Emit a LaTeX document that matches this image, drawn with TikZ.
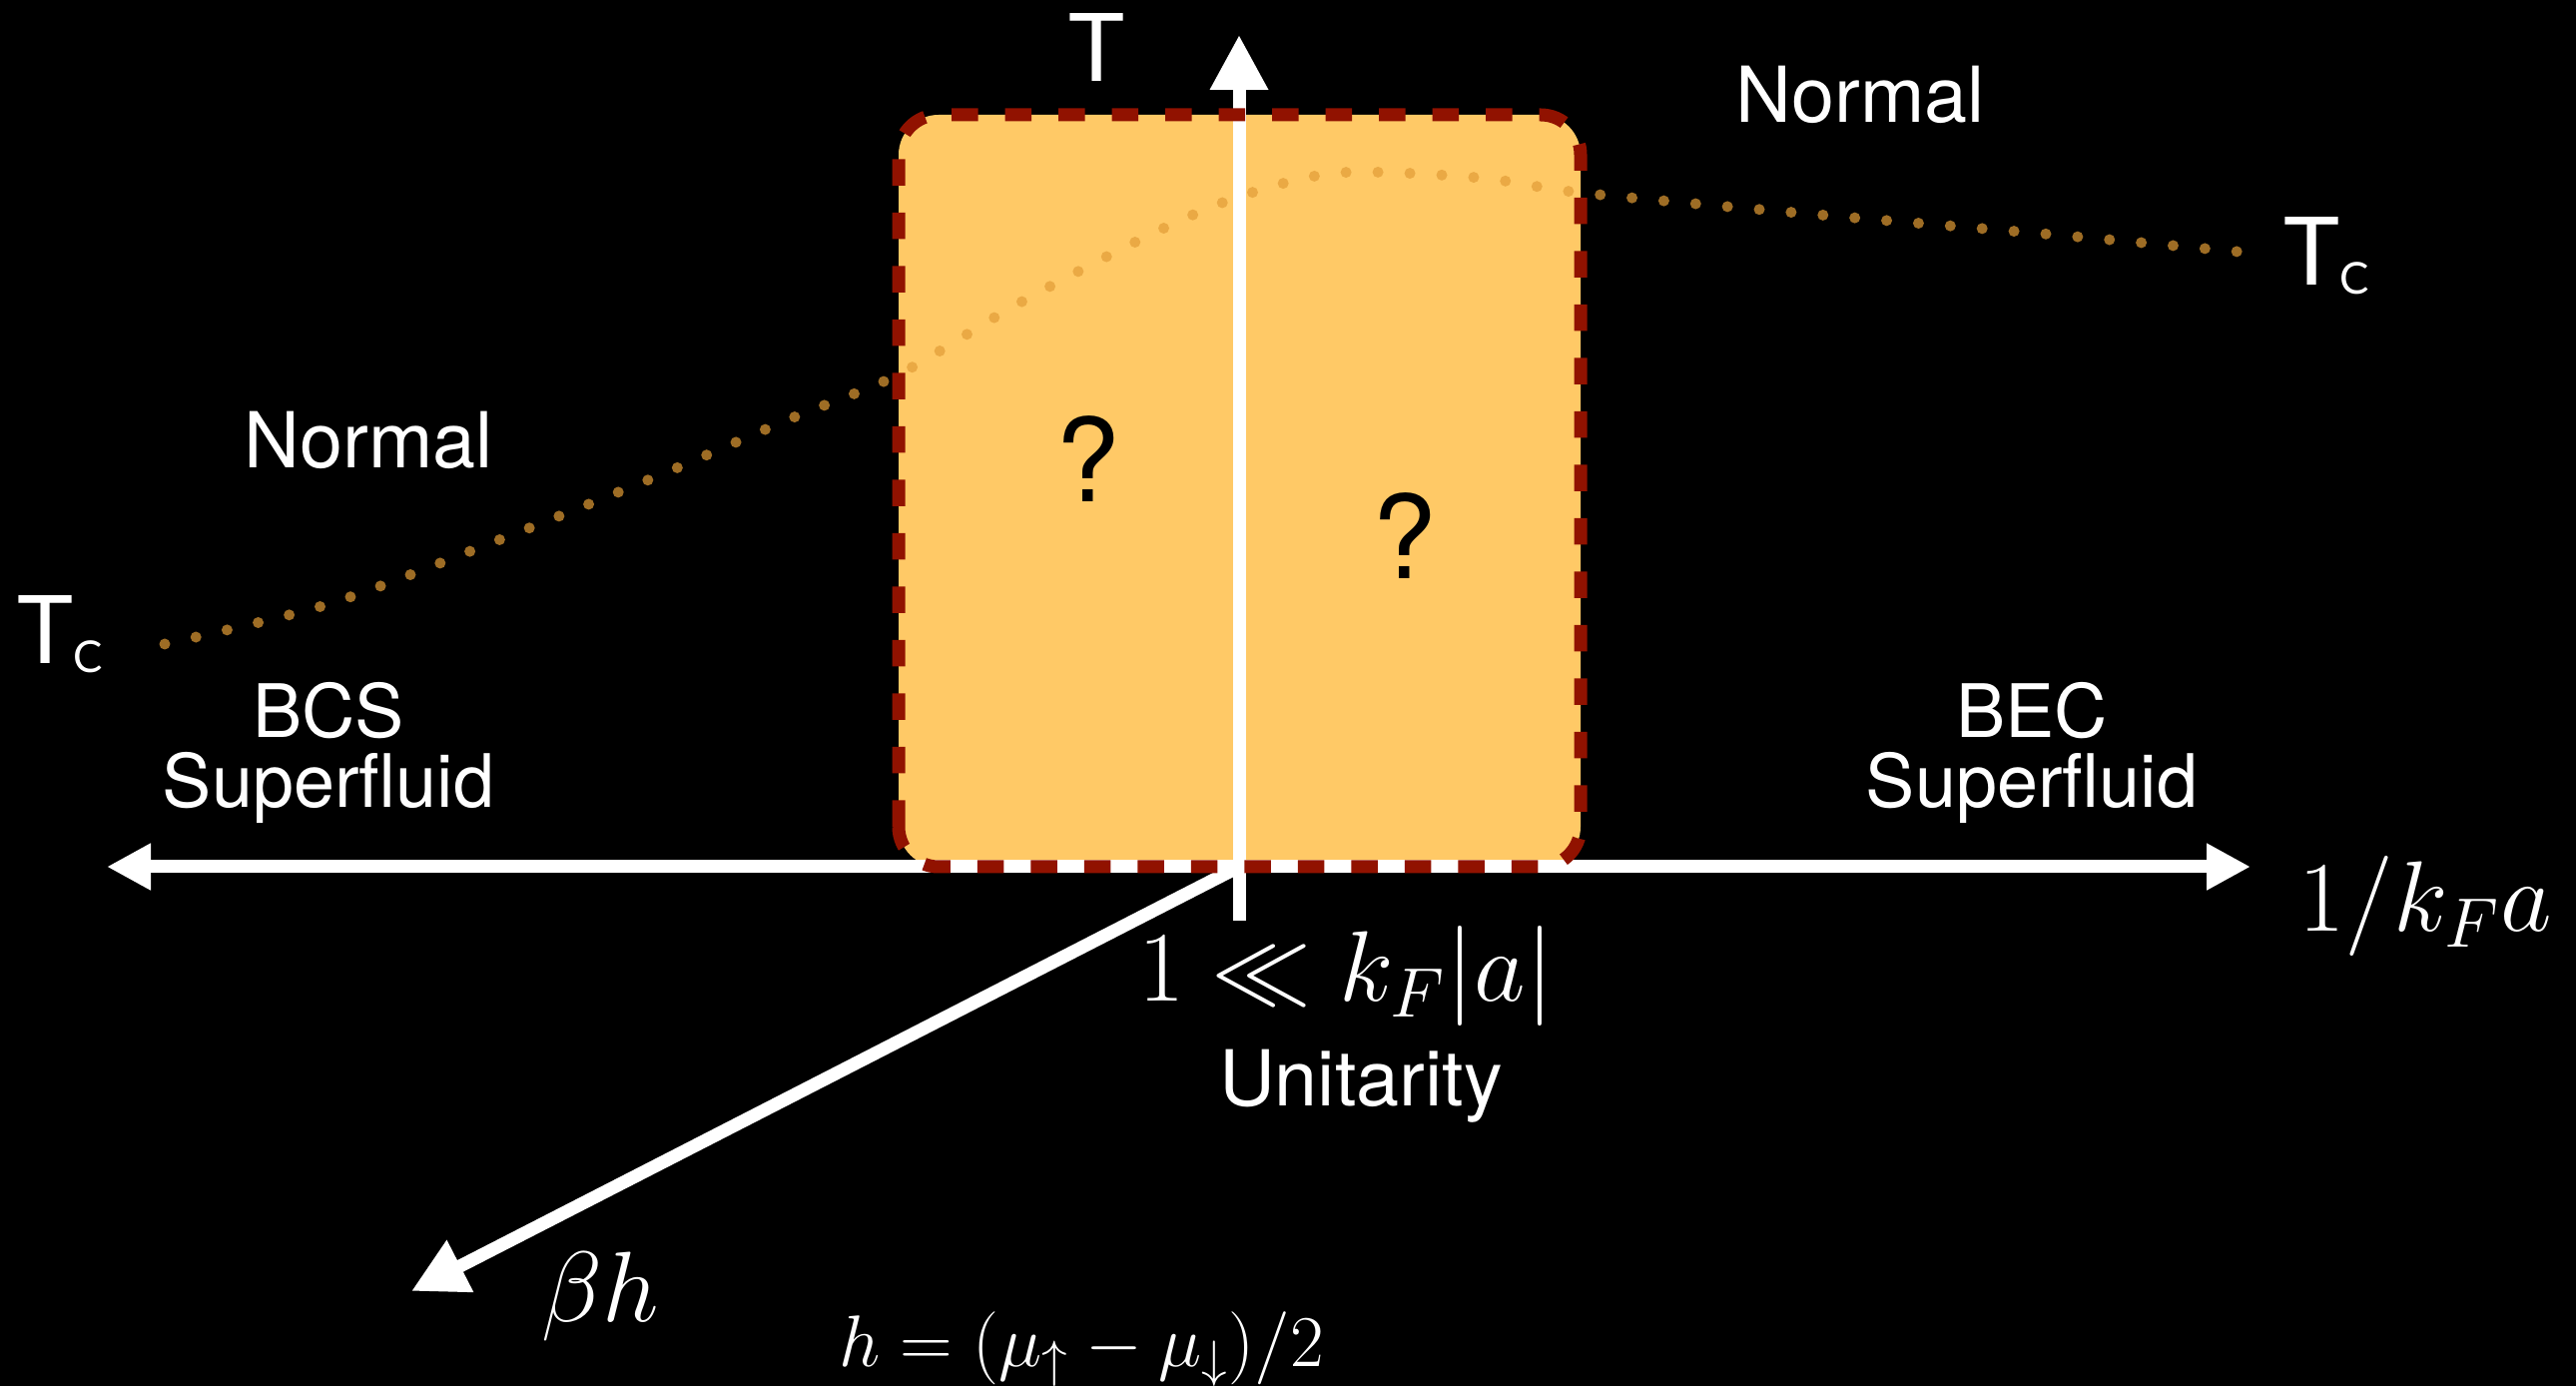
\RequirePackage{fix-cm}
\documentclass[tikz,border=0pt]{standalone}
\usepackage[no-math]{fontspec}
\setmainfont{TeX Gyre Heros}
\newfontfamily\tcfont{Lato}
\usetikzlibrary{arrows.meta}
\definecolor{boxfill}{RGB}{255,201,102}
\definecolor{boxline}{RGB}{145,18,0}
\definecolor{tcdot}{RGB}{226,156,54}

\begin{document}
\begin{tikzpicture}[
	axis/.style={white, line width=0.13cm},
	phase/.style={white, font=\fontsize{22}{20}\selectfont, align=center, inner sep=0pt},
	fluid/.style={white, font=\fontsize{21}{20}\selectfont, align=center, inner sep=0pt},
	mathlabel/.style={white, font=\fontsize{28.5}{28.5}\selectfont, inner sep=0pt},
	qmark/.style={black, font=\fontsize{33}{33}\selectfont, inner sep=0pt},
	templabel/.style={white, font=\tcfont\fontsize{27}{27}\selectfont, inner sep=0pt},
	]
	\fill [black] (0, 0) rectangle (25.8, 13.88);
	\useasboundingbox (0, 0) rectangle (25.8, 13.88);

	\coordinate (O) at (12.41, 5.20);
	\coordinate (Ttip) at (12.41, 13.53);
	\coordinate (Tfoot) at (12.41, 4.66);
	\coordinate (xleft) at (1.07, 5.20);
	\coordinate (xright) at (22.54, 5.20);
	\coordinate (htip) at (4.12, 0.95);

	\fill [boxfill, rounded corners=0.4cm] (9.0, 5.20) rectangle (15.83, 12.73);
	\draw [axis, {Triangle[length=0.44cm, width=0.44cm]}-{Triangle[length=0.44cm, width=0.44cm]}] (xleft) -- (xright);
	\draw [axis, -{Triangle[length=0.55cm, width=0.55cm]}] (Tfoot) -- (Ttip);
	\draw [axis, -{Triangle[length=0.55cm, width=0.55cm]}] (O) -- (htip);
	\draw [boxline, line width=0.13cm, dash pattern=on 0.265cm off 0.27cm, rounded corners=0.4cm] (9.0, 5.20) rectangle (15.83, 12.73);
	\draw [tcdot, opacity=0.7, line width=0.11cm, line cap=round, dash pattern=on 0pt off 0.32cm]
		plot [smooth] coordinates {(1.65, 7.43) (3.29, 7.83) (4.94, 8.45) (6.58, 9.11) (7.90, 9.68) (9.00, 10.13) (10.20, 10.84) (11.52, 11.53) (12.41, 11.91) (13.41, 12.15) (14.81, 12.10) (15.83, 11.95) (18.10, 11.74) (20.57, 11.53) (22.41, 11.36)};

	\node [templabel, anchor=base] (T) at (10.99, 13.06) {T};
	\node [templabel, anchor=base] (TcR) at (23.30, 11.02) {T\raisebox{-0.09cm}{\fontsize{12.5}{12.5}\selectfont C}};
	\node [templabel, anchor=base] (TcL) at (0.60, 7.23) {T\raisebox{-0.09cm}{\fontsize{12.5}{12.5}\selectfont C}};
	\node [phase, anchor=base] (normalR) at (18.63, 12.65) {Normal};
	\node [phase, anchor=base] (normalL) at (3.69, 9.19) {Normal};
	\node [qmark] (q1) at (10.90, 9.28) {?};
	\node [qmark] (q2) at (14.07, 8.51) {?};
	\node [fluid] (bcs) at (3.29, 6.34) {BCS\\Superfluid};
	\node [fluid] (bec) at (20.35, 6.34) {BEC\\Superfluid};
	\node [mathlabel, anchor=base] (xlabel) at (24.29, 4.55) {$1/k_F a$};
	\node [mathlabel, anchor=base] (unit) at (13.48, 3.85) {$1 \ll k_F|a|$};
	\node [phase, anchor=base] (unitlabel) at (13.63, 2.81) {Unitarity};
	\node [mathlabel, anchor=base] (hlabel) at (6.01, 0.65) {$\beta h$};
	\node [white, font=\fontsize{20.8}{20.8}\selectfont, inner sep=0pt, anchor=base] (hdef) at (10.83, 0.20) {$h = (\mu_\uparrow - \mu_\downarrow)/2$};
\end{tikzpicture}
\end{document}
